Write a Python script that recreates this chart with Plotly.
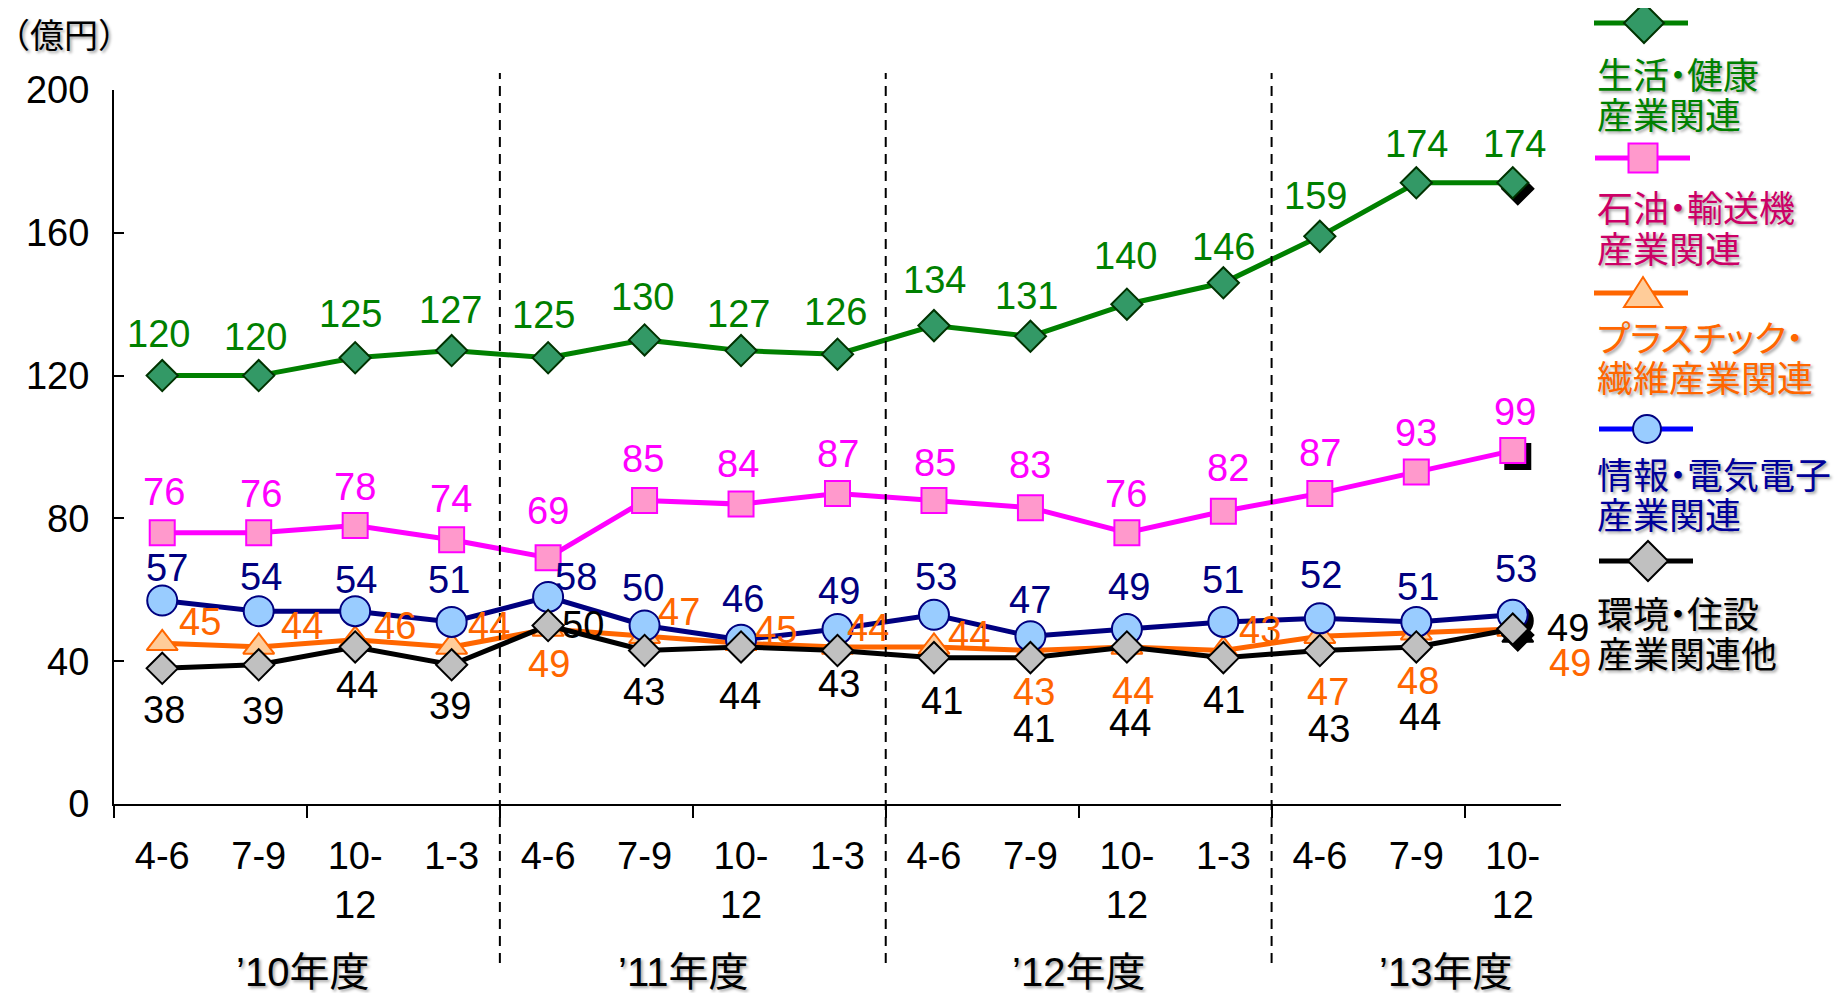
import plotly.graph_objects as go

# ---------------- data ----------------
quarters = ["4-6", "7-9", "10-<br>12", "1-3",
            "4-6", "7-9", "10-<br>12", "1-3",
            "4-6", "7-9", "10-<br>12", "1-3",
            "4-6", "7-9", "10-<br>12"]
years = ["’10年度", "’11年度", "’12年度", "’13年度"]
year_pos = [1.45, 5.4, 9.5, 13.3]

seikatsu = [120, 120, 125, 127, 125, 130, 127, 126, 134, 131, 140, 146, 159, 174, 174]
sekiyu = [76, 76, 78, 74, 69, 85, 84, 87, 85, 83, 76, 82, 87, 93, 99]
plastic = [45, 44, 46, 44, 49, 47, 45, 44, 44, 43, 44, 43, 47, 48, 49]
joho = [57, 54, 54, 51, 58, 50, 46, 49, 53, 47, 49, 51, 52, 51, 53]
kankyo = [38, 39, 44, 39, 50, 43, 44, 43, 41, 41, 44, 41, 43, 44, 49]

# label offsets in pixels (dx right, dy down) - styling only
off_seikatsu = [(-4, -42), (-3, -39), (-5, -44), (-1, -41), (-5, -43), (-2, -43), (-3, -37), (-2, -42),
                (1, -46), (-4, -40), (-1, -48), (0, -36), (-4, -40), (0, -39), (2, -39)]
off_sekiyu = [(2, -41), (2, -39), (0, -39), (-1, -41), (0, -47), (-2, -42), (-3, -40), (0, -39),
              (1, -38), (0, -43), (-1, -39), (5, -43), (0, -40), (0, -39), (2, -39)]
off_plastic = [(38, -21), (43, -21), (40, -14), (37, -21), (1, 35), (34, -24), (35, -13), (30, -19),
               (35, -12), (4, 42), (6, 44), (37, -20), (8, 56), (2, 48), (57, 34)]
off_joho = [(5, -33), (2, -34), (1, -31), (-3, -42), (28, -20), (-2, -38), (2, -41), (1, -38),
            (2, -38), (0, -36), (2, -42), (0, -42), (1, -43), (2, -35), (3, -46)]
off_kankyo = [(2, 42), (4, 46), (2, 38), (-2, 41), (35, -1), (-1, 42), (-1, 49), (1, 34),
              (8, 43), (4, 71), (3, 76), (1, 42), (9, 79), (4, 70), (55, -1)]

NUM_FONT = "Liberation Sans, Arial, sans-serif"
JP_FONT = "Liberation Sans, Noto Sans CJK JP, sans-serif"
CJK_FONT = "Noto Sans CJK JP, sans-serif"
TXT_SHADOW = "2px 2px 3px rgba(0,0,0,0.35)"
NUM_SIZE = 38

series = [
    dict(name="生活・健康産業関連", y=seikatsu, off=off_seikatsu, line="#008000", fill="#339966",
         edge="#003300", symbol="diamond", size=24, lab="#008000"),
    dict(name="石油・輸送機産業関連", y=sekiyu, off=off_sekiyu, line="#FF00FF", fill="#FF99CC",
         edge="#FF00FF", symbol="square", size=25, lab="#FF00FF"),
    dict(name="プラスチック・繊維産業関連", y=plastic, off=off_plastic, line="#FF6600", fill="#FFCC99",
         edge="#FF6600", symbol="triangle-up", size=27, lab="#FF6600"),
    dict(name="情報・電気電子産業関連", y=joho, off=off_joho, line="#000080", fill="#99CCFF",
         edge="#000080", symbol="circle", size=30, lab="#000080"),
    dict(name="環境・住設産業関連他", y=kankyo, off=off_kankyo, line="#000000", fill="#C0C0C0",
         edge="#000000", symbol="diamond", size=24, lab="#000000"),
]

# ---------------- geometry (screen pixels) ----------------
OFF = 8                     # page body margin
W, H = 1843 - OFF, 993 - OFF
PL, PR, PT, PB = 114, 1561, 90, 804   # plot area on screen
CAT_W = (PR - PL) / 15.0
Y_PX = (PB - PT) / 200.0


def px(xp):
    return (xp - PL) / (PR - PL)


def py(yp):
    return (PB - yp) / (PB - PT)


fig = go.Figure()
xs = list(range(len(quarters)))
annotations = []

for s in series:
    last = len(s["y"]) - 1
    # black drop-shadow behind the latest point
    fig.add_trace(go.Scatter(
        x=[xs[last] + 5 / CAT_W], y=[s["y"][last] - 6 / Y_PX], mode="markers",
        marker=dict(symbol=s["symbol"], size=s["size"], color="#000000",
                    line=dict(color="#000000", width=2)),
        showlegend=False, hoverinfo="skip", cliponaxis=False))
    fig.add_trace(go.Scatter(
        x=xs, y=s["y"], mode="lines+markers", name=s["name"],
        line=dict(color=s["line"], width=5),
        marker=dict(symbol=s["symbol"], size=s["size"], color=s["fill"],
                    line=dict(color=s["edge"], width=2)),
        showlegend=False, cliponaxis=False))
    for i, v in enumerate(s["y"]):
        dx, dy = s["off"][i]
        annotations.append(dict(
            x=xs[i], y=v, xref="x", yref="y", text=str(v), showarrow=False,
            xshift=dx, yshift=-dy, xanchor="center", yanchor="middle",
            font=dict(family=NUM_FONT, size=NUM_SIZE, color=s["lab"])))

# year labels
for yl, xp in zip(years, year_pos):
    annotations.append(dict(
        x=xp, y=py(972), xref="x", yref="paper", text=yl, showarrow=False,
        xanchor="center", yanchor="middle",
        font=dict(family=JP_FONT, size=40, color="#000000", shadow=TXT_SHADOW)))

# unit label
annotations.append(dict(
    x=px(64), y=py(33), xref="paper", yref="paper", text="（億円）", showarrow=False,
    xanchor="center", yanchor="middle",
    font=dict(family=CJK_FONT, size=34, color="#000000", shadow=TXT_SHADOW)))


def proportional(t):
    # proportional kana / punctuation like a Japanese "P" font
    return "<span style='font-feature-settings:\"palt\"'>" + t + "</span>"


# ---------------- custom legend ----------------
legend_items = [
    dict(lines=["生活・健康", "産業関連"], ly=23, ty=[73, 113], color="#008000", tcol="#008000",
         x0=1594, x1=1688, cx=1644, kind="diamond", fill="#339966", edge="#003300", r=20),
    dict(lines=["石油・輸送機", "産業関連"], ly=158, ty=[206, 247], color="#FF00FF", tcol="#CC0066",
         x0=1595, x1=1690, cx=1643, kind="square", fill="#FF99CC", edge="#FF00FF", r=14.5),
    dict(lines=["プラスチック・", "繊維産業関連"], ly=293, ty=[336, 376], color="#FF6600", tcol="#FF6600",
         x0=1594, x1=1688, cx=1643, kind="triangle", fill="#FFCC99", edge="#FF6600", r=19),
    dict(lines=["情報・電気電子", "産業関連"], ly=429, ty=[473, 513], color="#0000FF", tcol="#000099",
         x0=1599, x1=1693, cx=1647, kind="circle", fill="#99CCFF", edge="#000080", r=14),
    dict(lines=["環境・住設", "産業関連他"], ly=561, ty=[612, 652], color="#000000", tcol="#000000",
         x0=1599, x1=1693, cx=1648, kind="diamond", fill="#C0C0C0", edge="#000000", r=20),
]

shapes = []
for it in legend_items:
    shapes.append(dict(type="line", xref="paper", yref="paper",
                       x0=px(it["x0"]), x1=px(it["x1"]), y0=py(it["ly"]), y1=py(it["ly"]),
                       line=dict(color=it["color"], width=5)))
    cx, cy, r = it["cx"], it["ly"], it["r"]
    if it["kind"] == "diamond":
        pts = [(cx - r, cy), (cx, cy - r), (cx + r, cy), (cx, cy + r)]
    elif it["kind"] == "triangle":
        pts = [(cx - r, cy + 14), (cx, cy - 16), (cx + r, cy + 14)]
    else:
        pts = None
    if pts is not None:
        path = "M " + " L ".join(f"{px(a):.5f},{py(b):.5f}" for a, b in pts) + " Z"
        shapes.append(dict(type="path", xref="paper", yref="paper", path=path,
                           fillcolor=it["fill"], line=dict(color=it["edge"], width=2)))
    else:
        shapes.append(dict(type="rect" if it["kind"] == "square" else "circle",
                           xref="paper", yref="paper",
                           x0=px(cx - r), x1=px(cx + r), y0=py(cy + r), y1=py(cy - r),
                           fillcolor=it["fill"], line=dict(color=it["edge"], width=2)))
    for t, yy in zip(it["lines"], it["ty"]):
        annotations.append(dict(
            x=px(1595), y=py(yy), xref="paper", yref="paper", text=proportional(t),
            showarrow=False, xanchor="left", yanchor="middle",
            font=dict(family=CJK_FONT, size=36, color=it["tcol"], shadow=TXT_SHADOW)))

# dashed fiscal-year separators
for b in [4, 8, 12]:
    shapes.append(dict(type="line", xref="paper", yref="paper",
                       x0=b / 15.0, x1=b / 15.0, y0=py(963), y1=py(73),
                       line=dict(color="#000000", width=2, dash="10px,7px")))

fig.update_layout(
    width=W, height=H,
    margin=dict(l=PL - OFF, r=W - (PR - OFF), t=PT - OFF, b=H - (PB - OFF)),
    paper_bgcolor="#FFFFFF", plot_bgcolor="#FFFFFF",
    showlegend=False,
    annotations=annotations,
    shapes=shapes,
    xaxis=dict(range=[-0.5, 14.5], tickmode="array", tickvals=xs, ticktext=quarters,
               ticks="", showline=True, linecolor="#000000", linewidth=2,
               showgrid=False, zeroline=False, ticklabelstandoff=17,
               tickfont=dict(family=NUM_FONT, size=NUM_SIZE, color="#000000"),
               minor=dict(tickmode="array", tickvals=[b - 0.5 for b in range(0, 15, 2)],
                          ticks="outside", ticklen=12, tickwidth=2, tickcolor="#000000",
                          showgrid=False)),
    yaxis=dict(range=[0, 200], tickmode="array", tickvals=[0, 40, 80, 120, 160, 200],
               ticks="inside", ticklen=10, tickwidth=2, tickcolor="#000000",
               showline=True, linecolor="#000000", linewidth=2,
               showgrid=False, zeroline=False, ticklabelstandoff=15,
               tickfont=dict(family=NUM_FONT, size=NUM_SIZE, color="#000000")),
)

fig.write_html("out.html")
